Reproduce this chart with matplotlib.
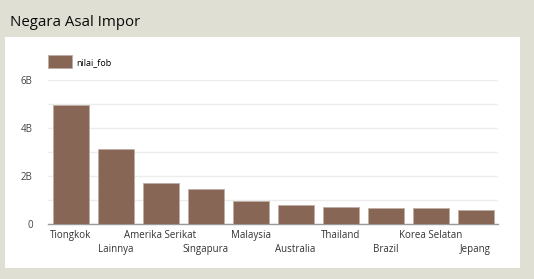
import matplotlib
matplotlib.use('Agg')
import matplotlib.pyplot as plt
from matplotlib.patches import Rectangle
import numpy as np

plt.rcParams['font.family'] = ['Open Sans', 'DejaVu Sans']

# Data (values in billions)
countries = ['Tiongkok', 'Lainnya', 'Amerika Serikat', 'Singapura', 'Malaysia',
             'Australia', 'Thailand', 'Brazil', 'Korea Selatan', 'Jepang']
nilai_fob = [4.96, 3.11, 1.72, 1.47, 0.97, 0.79, 0.72, 0.68, 0.65, 0.60]
ytick_vals = [0, 2, 4, 6]
ytick_labels = ['0', '2B', '4B', '6B']

W, H = 534, 279
fig = plt.figure(figsize=(W / 100, H / 100), dpi=100)
fig.patch.set_facecolor('#dfdfd4')

# white panel
fig.patches.append(Rectangle((5 / W, (H - 268) / H), 515 / W, 231 / H,
                             transform=fig.transFigure, facecolor='white',
                             edgecolor='none', zorder=-5))
fig.text(10 / W, 1 - 22 / H, 'Negara Asal Impor', fontsize=10.8,
         color='#0a0a0a', va='center', ha='left')

ax = fig.add_axes([48 / W, (H - 224) / H, 450 / W, 144 / H])
ax.set_zorder(2)
ax.set_facecolor('none')
x = np.arange(len(countries))
ax.bar(x, np.array(nilai_fob) * 1e9, width=0.8, color='#876656',
       edgecolor='#bfaea5', linewidth=0.6, label='nilai_fob', zorder=3)

ax.set_xlim(-0.5, len(countries) - 0.5)
ax.set_ylim(0, 6e9)
ax.set_yticks([v * 1e9 for v in ytick_vals])
ax.set_yticklabels(ytick_labels)
ax.set_yticks([v * 1e9 for v in [1, 3, 5]], minor=True)
ax.grid(axis='y', which='both', color='#ececec', linewidth=1, zorder=0)
ax.tick_params(axis='y', which='both', length=0, pad=11, labelsize=7,
               labelcolor='#444444')

ax.set_xticks(x)
ax.set_xticklabels(countries)
ax.tick_params(axis='x', length=0, labelsize=7, labelcolor='#333333')
for i, tick in enumerate(ax.xaxis.get_major_ticks()):
    tick.set_pad(4.5 if i % 2 == 0 else 14.5)

for s in ['top', 'right', 'left']:
    ax.spines[s].set_visible(False)
ax.spines['bottom'].set_color('#999999')
ax.spines['bottom'].set_linewidth(1)

ax.legend(loc='lower left', bbox_to_anchor=(0, 1.08), frameon=False,
          fontsize=6.5, handlelength=2.7, handleheight=1.9,
          borderpad=0, borderaxespad=0, handletextpad=0.4)

fig.savefig('out.png', dpi=100, facecolor=fig.get_facecolor())
